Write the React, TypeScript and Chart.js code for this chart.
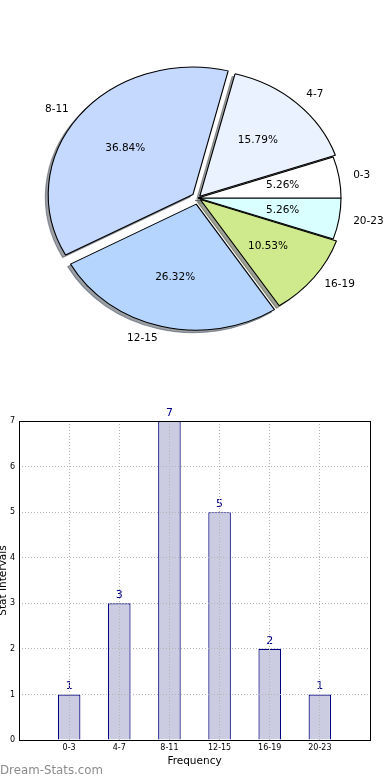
import React, { useEffect, useRef } from 'react';
import { Chart, registerables } from 'chart.js';

Chart.register(...registerables);

// ---------- data ----------
const categories = ['0-3', '4-7', '8-11', '12-15', '16-19', '20-23'];
const frequencies = [1, 3, 7, 5, 2, 1];
const explodeFractions = [0, 0.018, 0.045, 0.05, 0.02, 0];
const sliceColors = ['#ffffff', '#ebf2ff', '#c5d9ff', '#b5d5ff', '#cfea8c', '#d9ffff'];
const yTickValues = [0, 1, 2, 3, 4, 5, 6, 7];
const watermark = 'Dream-Stats.com';
const xTitle = 'Frequency';
const yTitle = 'Stat Intervals';

const total = frequencies.reduce((a, b) => a + b, 0);
const percentLabels = frequencies.map((v) => ((v / total) * 100).toFixed(2) + '%');

// ---------- style constants ----------
const FONT = '"DejaVu Sans", sans-serif';
const PIE_RY = 126;
const PIE_SX = 143 / 126;
const SHADOW = 0.02;
const BAR_FILL = '#cbcbe2';
const NAVY = '#000080';
const GRID = '#b4b4b4';

function shadowColor(hex: string): string {
  const h = hex.replace('#', '');
  const r = parseInt(h.slice(0, 2), 16);
  const g = parseInt(h.slice(2, 4), 16);
  const b = parseInt(h.slice(4, 6), 16);
  return `rgba(${Math.round(r * 0.3)},${Math.round(g * 0.3)},${Math.round(b * 0.3)},0.5)`;
}

const pieDecor = {
  id: 'pieDecor',
  beforeDatasetsDraw(chart: any) {
    const ctx = chart.ctx;
    const arcs = chart.getDatasetMeta(0).data;
    chart.$ellipse = false;
    if (!arcs.length) return;
    const { x, y } = arcs[0];
    ctx.save();
    chart.$ellipse = true;
    ctx.translate(x, y);
    ctx.scale(PIE_SX, 1);
    ctx.translate(-x, -y);
    arcs.forEach((arc: any) => {
      const saved = arc.options;
      const col = shadowColor(saved.backgroundColor);
      arc.options = { ...saved, backgroundColor: col, borderColor: col };
      ctx.save();
      ctx.translate(-SHADOW * arc.outerRadius, SHADOW * arc.outerRadius);
      arc.draw(ctx);
      ctx.restore();
      arc.options = saved;
    });
  },
  afterDatasetsDraw(chart: any) {
    if (chart.$ellipse) chart.ctx.restore();
    chart.$ellipse = false;
  },
  afterDraw(chart: any) {
    const ctx = chart.ctx;
    const arcs = chart.getDatasetMeta(0).data;
    const labels = chart.data.labels;
    const pcts = chart.data.datasets[0].pctLabels;
    ctx.save();
    ctx.font = `10.5px ${FONT}`;
    ctx.fillStyle = '#000';
    ctx.textBaseline = 'middle';
    arcs.forEach((arc: any, j: number) => {
      const th = (arc.startAngle + arc.endAngle) / 2;
      const off = (arc.options.offset || 0) / 4;
      const R = arc.outerRadius;
      const c = Math.cos(th);
      const s = Math.sin(th);
      const d1 = 1.1 * R + off;
      ctx.textAlign = c > 0 ? 'left' : 'right';
      ctx.fillText(labels[j], arc.x + PIE_SX * d1 * c, arc.y + d1 * s);
      const d2 = 0.6 * R + off;
      ctx.textAlign = 'center';
      ctx.fillText(pcts[j], arc.x + PIE_SX * d2 * c, arc.y + d2 * s);
    });
    ctx.restore();
  },
};

const barDecor = {
  id: 'barDecor',
  afterDatasetsDraw(chart: any) {
    const ctx = chart.ctx;
    const meta = chart.getDatasetMeta(0);
    const vals = chart.data.datasets[0].data;
    ctx.save();
    ctx.font = `11px ${FONT}`;
    ctx.fillStyle = NAVY;
    ctx.textAlign = 'center';
    ctx.textBaseline = 'alphabetic';
    meta.data.forEach((el: any, i: number) => {
      ctx.fillText(String(vals[i].y), el.x, el.y - 5);
    });
    ctx.restore();
  },
  afterDraw(chart: any) {
    const { left, right, top, bottom } = chart.chartArea;
    const ctx = chart.ctx;
    ctx.save();
    ctx.strokeStyle = '#000';
    ctx.lineWidth = 1;
    ctx.strokeRect(Math.round(left) + 0.5, Math.round(top) + 0.5, Math.round(right - left), Math.round(bottom - top));
    ctx.restore();
  },
};

export default function App() {
  const pieRef = useRef<HTMLCanvasElement | null>(null);
  const barRef = useRef<HTMLCanvasElement | null>(null);

  useEffect(() => {
    Chart.defaults.font.family = FONT;
    const rev = <T,>(a: T[]) => [...a].reverse();
    const pie = new Chart(pieRef.current as HTMLCanvasElement, {
      type: 'pie',
      data: {
        labels: rev(categories),
        datasets: [
          {
            data: rev(frequencies),
            backgroundColor: rev(sliceColors),
            borderColor: '#000',
            borderWidth: 1,
            offset: rev(explodeFractions.map((e) => e * 4 * PIE_RY)),
            hoverOffset: 0,
            pctLabels: rev(percentLabels),
          } as any,
        ],
      },
      options: {
        responsive: false,
        animation: false,
        events: [],
        radius: PIE_RY,
        rotation: 90,
        layout: { padding: { left: 6 } },
        plugins: { legend: { display: false }, tooltip: { enabled: false } },
      } as any,
      plugins: [pieDecor],
    });

    const bar = new Chart(barRef.current as HTMLCanvasElement, {
      type: 'bar',
      data: {
        datasets: [
          {
            data: frequencies.map((v, i) => ({ x: i, y: v })),
            backgroundColor: BAR_FILL,
            borderColor: NAVY,
            borderWidth: 1.2,
            barPercentage: 0.45,
            categoryPercentage: 1,
          },
        ],
      },
      options: {
        responsive: false,
        animation: false,
        events: [],
        layout: { padding: { left: 0, right: 20, top: 31, bottom: 0 } },
        plugins: { legend: { display: false }, tooltip: { enabled: false } },
        scales: {
          x: {
            type: 'linear',
            min: -1,
            max: 6,
            offset: false,
            afterFit: (s: any) => {
              s.height = 40;
            },
            ticks: {
              stepSize: 1,
              autoSkip: false,
              maxRotation: 0,
              padding: 3,
              color: '#000',
              font: { size: 8 },
              callback: (v: any) => categories[v as number] ?? '',
            },
            grid: { offset: false, color: GRID, drawTicks: false, z: 1 },
            border: { display: false, dash: [1, 2] },
            title: { display: true, text: xTitle, color: '#000', font: { size: 10.5 }, padding: { top: 0, bottom: 12 } },
          },
          y: {
            type: 'linear',
            min: 0,
            max: 7,
            afterFit: (s: any) => {
              s.width = 27;
            },
            afterBuildTicks: (s: any) => {
              s.ticks = yTickValues.map((v) => ({ value: v }));
            },
            ticks: { stepSize: 1, padding: 4, color: '#000', font: { size: 8 } },
            grid: { color: GRID, drawTicks: false, z: 1 },
            border: { display: false, dash: [1, 2] },
            title: { display: true, text: yTitle, color: '#000', font: { size: 10.5 }, padding: { top: 5, bottom: 0 } },
          },
        },
      } as any,
      plugins: [barDecor],
    });

    return () => {
      pie.destroy();
      bar.destroy();
    };
  }, []);

  return (
    <div
      style={{
        position: 'absolute',
        left: 0,
        top: 0,
        width: 390,
        height: 780,
        overflow: 'hidden',
        background: '#fff',
      }}
    >
      <canvas
        ref={pieRef}
        width={390}
        height={396}
        style={{ position: 'absolute', left: 0, top: 0, width: 390, height: 396 }}
      />
      <canvas
        ref={barRef}
        width={398}
        height={390}
        style={{ position: 'absolute', left: -8, top: 390, width: 398, height: 390 }}
      />
      <div
        style={{
          position: 'absolute',
          left: 0,
          top: 763,
          fontFamily: FONT,
          fontSize: 11.8,
          lineHeight: '14px',
          color: '#8c8c8c',
          whiteSpace: 'nowrap',
        }}
      >
        {watermark}
      </div>
    </div>
  );
}
